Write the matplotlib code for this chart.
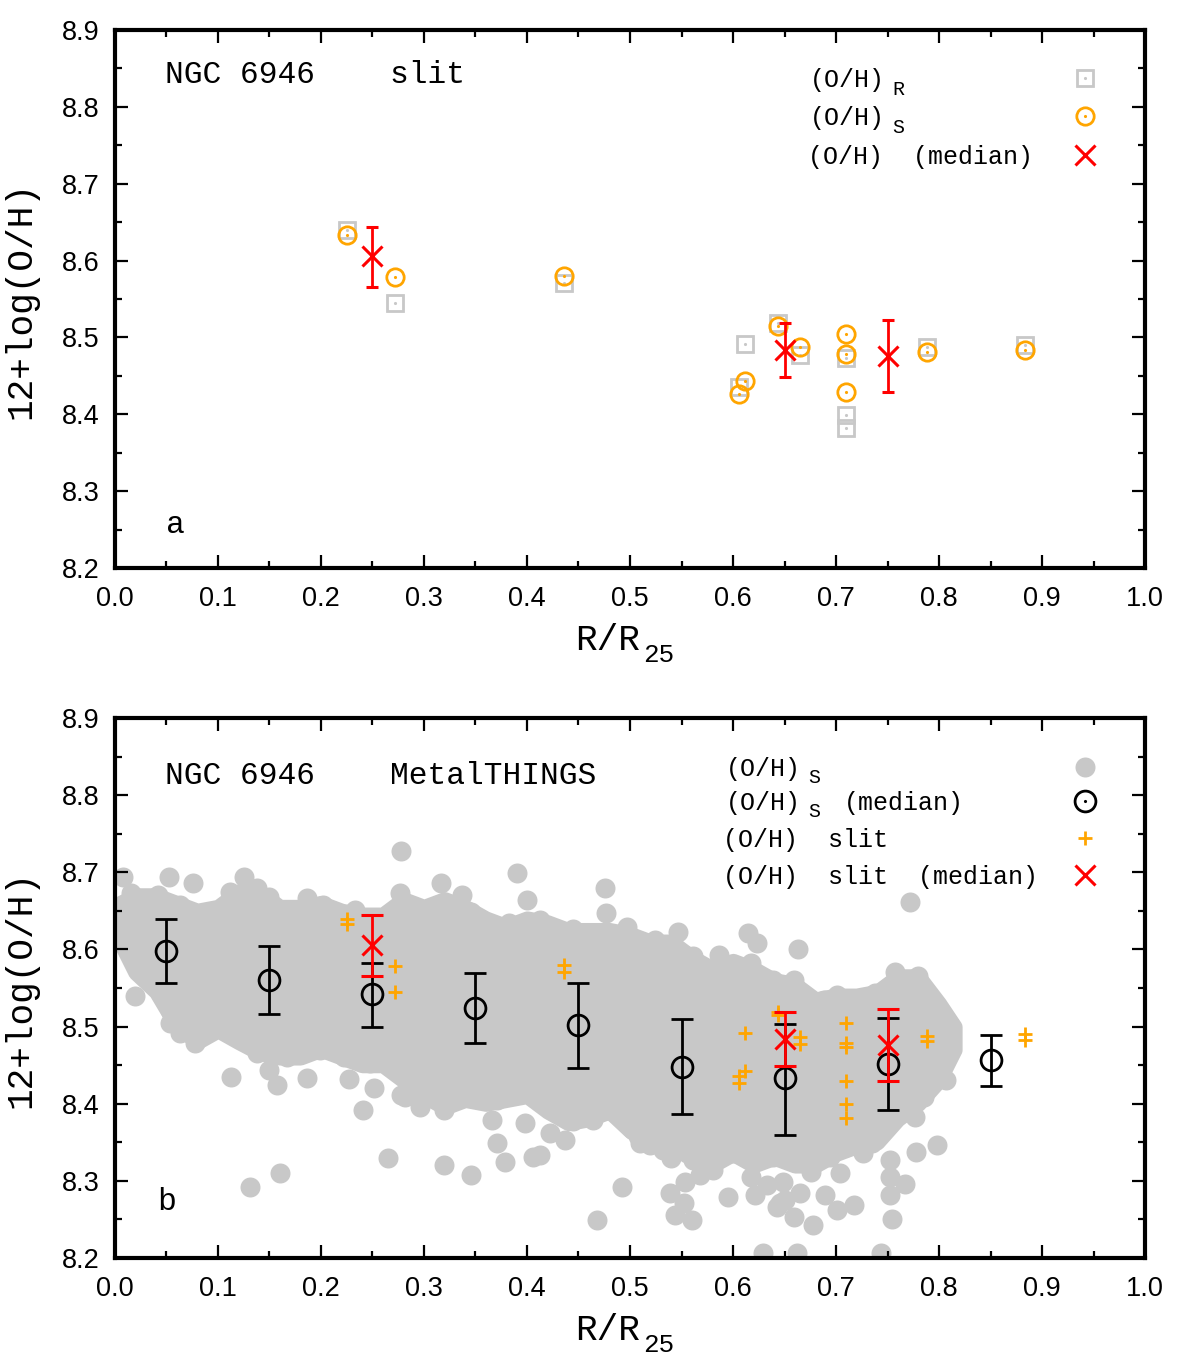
import numpy as np
import matplotlib.pyplot as plt
from matplotlib.ticker import MultipleLocator, FormatStrFormatter

plt.rcParams['font.family'] = ['Liberation Sans', 'DejaVu Sans']
MONO = 'Liberation Mono'

GRAY = '#c8c8c8'
ORANGE = '#ffa500'

# slit measurements (panel a, and orange crosses in panel b)
slit_x = [0.225, 0.272, 0.436, 0.606, 0.612, 0.644, 0.665, 0.710, 0.710, 0.710, 0.788, 0.883]
oh_R = [8.640, 8.545, 8.571, 8.436, 8.492, 8.519, 8.477, 8.473, 8.399, 8.382, 8.488, 8.490]
oh_S = [8.633, 8.579, 8.580, 8.427, 8.443, 8.515, 8.487, 8.505, 8.479, 8.429, 8.481, 8.483]

# slit medians
slit_med_x = [0.25, 0.65, 0.75]
slit_med_y = [8.606, 8.484, 8.476]
slit_med_lo = [8.566, 8.449, 8.429]
slit_med_hi = [8.644, 8.519, 8.523]

# MetalTHINGS medians
mt_med_x = [0.05, 0.15, 0.25, 0.35, 0.45, 0.55, 0.65, 0.75, 0.85]
mt_med_y = [8.598, 8.560, 8.542, 8.524, 8.502, 8.447, 8.433, 8.451, 8.456]
mt_med_lo = [8.557, 8.516, 8.500, 8.479, 8.446, 8.386, 8.360, 8.392, 8.423]
mt_med_hi = [8.639, 8.604, 8.583, 8.570, 8.557, 8.510, 8.503, 8.511, 8.489]

# MetalTHINGS spaxels: dense core (lower / upper edge of the crowded region)
cloud_x = [0.005, 0.02, 0.04, 0.06, 0.08, 0.10, 0.12, 0.14, 0.16, 0.18, 0.20, 0.22, 0.24, 0.26,
           0.28, 0.30, 0.32, 0.34, 0.36, 0.38, 0.40, 0.42, 0.44, 0.46, 0.48, 0.50, 0.52, 0.54,
           0.56, 0.58, 0.60, 0.62, 0.64, 0.66, 0.68, 0.70, 0.72, 0.74, 0.76, 0.78, 0.80, 0.815]
cloud_hi = [8.66, 8.67, 8.67, 8.66, 8.65, 8.655, 8.675, 8.675, 8.655, 8.655, 8.66, 8.65, 8.645, 8.645,
            8.665, 8.655, 8.665, 8.655, 8.64, 8.63, 8.64, 8.635, 8.625, 8.625, 8.625, 8.62, 8.61, 8.61,
            8.59, 8.575, 8.585, 8.575, 8.56, 8.555, 8.535, 8.54, 8.54, 8.545, 8.565, 8.565, 8.53, 8.50]
cloud_lo = [8.61, 8.57, 8.545, 8.50, 8.48, 8.495, 8.48, 8.466, 8.46, 8.46, 8.47, 8.46, 8.45, 8.45,
            8.43, 8.41, 8.395, 8.405, 8.40, 8.405, 8.41, 8.39, 8.375, 8.38, 8.39, 8.365, 8.35, 8.34,
            8.335, 8.32, 8.335, 8.32, 8.33, 8.32, 8.32, 8.335, 8.345, 8.35, 8.38, 8.40, 8.43, 8.47]

# MetalTHINGS spaxels: individual points around and outside the core
spax_x = [0.008, 0.052, 0.076, 0.016, 0.042, 0.063, 0.125, 0.112, 0.138, 0.150, 0.186, 0.202, 0.233,
          0.277, 0.278, 0.260, 0.317, 0.337, 0.390, 0.400, 0.346, 0.309, 0.291, 0.383, 0.413, 0.445,
          0.476, 0.477, 0.497, 0.469, 0.524, 0.547, 0.555, 0.448, 0.772, 0.615, 0.623, 0.586, 0.663,
          0.561, 0.617, 0.571, 0.584, 0.610, 0.639, 0.659, 0.662, 0.688, 0.701, 0.738, 0.757, 0.780,
          0.786, 0.812, 0.807, 0.798, 0.807, 0.799, 0.785, 0.777, 0.798, 0.778,
          0.006, 0.006, 0.019, 0.037, 0.053, 0.053, 0.063, 0.078, 0.099, 0.131, 0.138, 0.167, 0.199,
          0.222, 0.248, 0.277, 0.113, 0.150, 0.157, 0.186, 0.227, 0.251, 0.241, 0.278, 0.265, 0.160,
          0.131, 0.282, 0.296, 0.319, 0.299, 0.348, 0.371, 0.366, 0.371, 0.398, 0.379, 0.406, 0.319,
          0.346, 0.422, 0.437, 0.445, 0.464, 0.393, 0.413, 0.477, 0.503, 0.510, 0.532, 0.555, 0.492,
          0.539, 0.552, 0.468, 0.544, 0.560, 0.553, 0.568, 0.581, 0.595, 0.621, 0.629, 0.662, 0.508,
          0.519, 0.540, 0.413, 0.752, 0.735, 0.752, 0.767, 0.752, 0.754, 0.717, 0.701, 0.689, 0.676,
          0.694, 0.710, 0.678, 0.659, 0.650, 0.744, 0.617, 0.561, 0.600, 0.639,
          0.649, 0.665, 0.643, 0.704, 0.726, 0.752, 0.633, 0.646]
spax_y = [8.694, 8.694, 8.686, 8.673, 8.671, 8.658, 8.694, 8.675, 8.679, 8.668, 8.666, 8.658, 8.651,
          8.673, 8.727, 8.640, 8.686, 8.671, 8.699, 8.664, 8.649, 8.649, 8.654, 8.634, 8.638, 8.627,
          8.679, 8.647, 8.629, 8.619, 8.612, 8.623, 8.591, 8.601, 8.662, 8.621, 8.608, 8.593, 8.601,
          8.591, 8.582, 8.565, 8.552, 8.569, 8.560, 8.560, 8.547, 8.534, 8.541, 8.543, 8.571, 8.565,
          8.537, 8.500, 8.487, 8.470, 8.431, 8.444, 8.409, 8.383, 8.346, 8.338,
          8.620, 8.645, 8.539, 8.556, 8.521, 8.505, 8.491, 8.479, 8.500, 8.479, 8.466, 8.461, 8.470,
          8.461, 8.453, 8.457, 8.435, 8.444, 8.424, 8.433, 8.432, 8.420, 8.392, 8.411, 8.329, 8.310,
          8.292, 8.409, 8.396, 8.392, 8.435, 8.409, 8.405, 8.379, 8.349, 8.375, 8.325, 8.331, 8.321,
          8.308, 8.362, 8.353, 8.377, 8.379, 8.422, 8.409, 8.392, 8.366, 8.349, 8.340, 8.336, 8.292,
          8.284, 8.271, 8.249, 8.256, 8.249, 8.299, 8.307, 8.314, 8.279, 8.282, 8.206, 8.206, 8.358,
          8.346, 8.329, 8.333, 8.388, 8.349, 8.305, 8.296, 8.282, 8.251, 8.269, 8.262, 8.282, 8.312,
          8.331, 8.344, 8.243, 8.253, 8.275, 8.206, 8.305, 8.327, 8.336, 8.331,
          8.298, 8.284, 8.266, 8.310, 8.336, 8.327, 8.294, 8.271]

slit_x = np.array(slit_x)
slit_med_y = np.array(slit_med_y)
mt_med_y = np.array(mt_med_y)
slit_med_err = [slit_med_y - np.array(slit_med_lo), np.array(slit_med_hi) - slit_med_y]
mt_med_err = [mt_med_y - np.array(mt_med_lo), np.array(mt_med_hi) - mt_med_y]


def style_axes(ax):
    ax.set_xlim(0.0, 1.0)
    ax.set_ylim(8.2, 8.9)
    ax.xaxis.set_major_locator(MultipleLocator(0.1))
    ax.xaxis.set_minor_locator(MultipleLocator(0.05))
    ax.yaxis.set_major_locator(MultipleLocator(0.1))
    ax.yaxis.set_minor_locator(MultipleLocator(0.05))
    ax.xaxis.set_major_formatter(FormatStrFormatter('%.1f'))
    ax.yaxis.set_major_formatter(FormatStrFormatter('%.1f'))
    ax.tick_params(which='both', direction='in', top=True, right=True, width=1.6,
                   labelsize=19.5, colors='black')
    ax.tick_params(which='major', length=9.5)
    ax.tick_params(which='minor', length=5)
    ax.tick_params(axis='x', pad=13)
    ax.tick_params(axis='y', pad=11)
    for sp in ax.spines.values():
        sp.set_linewidth(3)


def mono_text(ax, x, y, s, size, sub=None, sub_at=5.5, sub_drop=0.3, sub_scale=0.8,
              tail=None, tail_at=8, coords=None):
    # monospace text with an optional gnuplot-like subscript, then an optional tail text
    if coords is None:
        coords = ax.transAxes
    ax.annotate(s, xy=(x, y), xycoords=coords, fontsize=size, family=MONO,
                va='baseline', ha='left', annotation_clip=False)
    if sub:
        ax.annotate(sub, xy=(x, y), xycoords=coords, xytext=(sub_at * 0.6 * size, -sub_drop * size),
                    textcoords='offset points', fontsize=sub_scale * size, family=MONO,
                    va='baseline', ha='left', annotation_clip=False)
    if tail:
        ax.annotate(tail, xy=(x, y), xycoords=coords, xytext=(tail_at * 0.6 * size, 0),
                    textcoords='offset points', fontsize=size, family=MONO,
                    va='baseline', ha='left', annotation_clip=False)


fig = plt.figure(figsize=(12, 13.6), dpi=100)

# ---------------- panel a ----------------
ax1 = fig.add_axes([0.0958, 0.5824, 0.8584, 0.3955])
ax1.plot(slit_x, oh_R, 's', ms=11.5, mfc='none', mec=GRAY, mew=2)
ax1.plot(slit_x, oh_R, '.', ms=2.5, color=GRAY)
ax1.plot(slit_x, oh_S, 'o', ms=12.5, mfc='none', mec=ORANGE, mew=2)
ax1.plot(slit_x, oh_S, '.', ms=2.5, color=ORANGE)
ax1.errorbar(slit_med_x, slit_med_y, yerr=slit_med_err, fmt='x', color='red', ms=15, mew=2.2,
             elinewidth=2, capsize=4, capthick=2)
style_axes(ax1)

mono_text(ax1, 0.0485, 0.901, 'NGC 6946    slit', 22.5)
mono_text(ax1, 0.05, 0.065, 'a', 22.5)

mono_text(ax1, 0.675, 0.894, '(O/H)', 18, sub='R')
mono_text(ax1, 0.675, 0.823, '(O/H)', 18, sub='S')
mono_text(ax1, 0.673, 0.751, '(O/H)  (median)', 18)
kx = 0.942
ax1.plot([kx], [0.911], 's', ms=11.5, mfc='none', mec=GRAY, mew=2, transform=ax1.transAxes, clip_on=False)
ax1.plot([kx], [0.911], '.', ms=2.5, color=GRAY, transform=ax1.transAxes, clip_on=False)
ax1.plot([kx], [0.840], 'o', ms=12.5, mfc='none', mec=ORANGE, mew=2, transform=ax1.transAxes, clip_on=False)
ax1.plot([kx], [0.840], '.', ms=2.5, color=ORANGE, transform=ax1.transAxes, clip_on=False)
ax1.plot([kx], [0.768], 'x', ms=15, mew=2.2, color='red', transform=ax1.transAxes, clip_on=False)

# ---------------- panel b ----------------
ax2 = fig.add_axes([0.0958, 0.075, 0.8584, 0.3971])
ax2.fill_between(cloud_x, cloud_lo, cloud_hi, facecolor=GRAY, edgecolor=GRAY, lw=11,
                 joinstyle='round', zorder=1)
ax2.plot(spax_x, spax_y, 'o', ms=14.4, color=GRAY, mec='none', zorder=1)
ax2.errorbar(mt_med_x, mt_med_y, yerr=mt_med_err, fmt='o', ms=15, mfc='none', mec='black', mew=2,
             color='black', elinewidth=2, capsize=8, capthick=2, zorder=3)
ax2.plot(slit_x, oh_R, '+', ms=10, mew=2, color=ORANGE, zorder=4)
ax2.plot(slit_x, oh_S, '+', ms=10, mew=2, color=ORANGE, zorder=4)
ax2.errorbar(slit_med_x, slit_med_y, yerr=slit_med_err, fmt='x', color='red', ms=15, mew=2.2,
             elinewidth=2, capsize=8, capthick=2, zorder=5)
style_axes(ax2)

mono_text(ax2, 0.0485, 0.878, 'NGC 6946    MetalTHINGS', 22.5)
mono_text(ax2, 0.041, 0.089, 'b', 22.5)

mono_text(ax2, 0.593, 0.893, '(O/H)', 18, sub='S')
mono_text(ax2, 0.593, 0.830, '(O/H)', 18, sub='S', tail='(median)', tail_at=7.9)
mono_text(ax2, 0.590, 0.761, '(O/H)  slit', 18)
mono_text(ax2, 0.590, 0.693, '(O/H)  slit  (median)', 18)
ax2.plot([kx], [0.909], 'o', ms=14.4, color=GRAY, mec='none', transform=ax2.transAxes, clip_on=False)
ax2.plot([kx], [0.846], 'o', ms=15, mfc='none', mec='black', mew=2, transform=ax2.transAxes, clip_on=False)
ax2.plot([kx], [0.846], '.', ms=2.5, color='black', transform=ax2.transAxes, clip_on=False)
ax2.plot([kx], [0.778], '+', ms=10, mew=2, color=ORANGE, transform=ax2.transAxes, clip_on=False)
ax2.plot([kx], [0.709], 'x', ms=15, mew=2.2, color='red', transform=ax2.transAxes, clip_on=False)

# axis labels
for yc in (1 - 300 / 1360, 1 - 989 / 1360):
    fig.text(21 / 1200, yc, '12+log(O/H)', rotation=90, ha='center', va='center',
             fontsize=26, family=MONO)
for yb in (1 - 650 / 1360, 1 - 1340 / 1360):
    mono_text(ax1, 575 / 1200, yb, 'R/R', 26, sub='25', sub_at=3.15, sub_drop=0.32,
              sub_scale=0.72, coords='figure fraction')

fig.savefig('out.png', dpi=100)
